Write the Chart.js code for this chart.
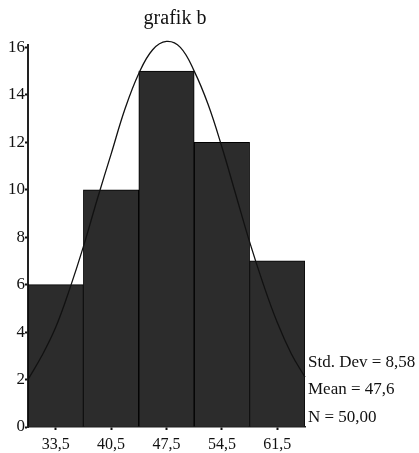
<!DOCTYPE html>
<html>
<head>
<meta charset="utf-8">
<script src="https://cdn.jsdelivr.net/npm/chart.js@4/dist/chart.umd.min.js"></script>
<style>
  html, body { margin: 0; padding: 0; background: #fff; }
  #wrap { width: 419px; height: 453px; position: relative; }
</style>
</head>
<body>
<div id="wrap"><canvas id="c" width="419" height="453"></canvas></div>
<script>
const chartTitle = 'grafik b';
const binCenters = [33.5, 40.5, 47.5, 54.5, 61.5];
const binLabels = ['33,5', '40,5', '47,5', '54,5', '61,5'];
const frequencies = [6, 10, 15, 12, 7];
const curveX = [30, 31.75, 33.5, 35.25, 37, 38.75, 40.5, 42.25, 44, 45.75, 47.5, 49.25, 51, 52.75, 54.5, 56.25, 58, 59.75, 61.5, 63.25, 65];
const curveY = [2.0, 3.0, 4.2, 5.8, 7.6, 9.6, 11.5, 13.4, 14.9, 15.9, 16.25, 16.0, 15.0, 13.6, 11.8, 9.8, 7.8, 6.0, 4.4, 3.1, 2.1];
const yTicks = [0, 2, 4, 6, 8, 10, 12, 14, 16];
const statsLines = ['Std. Dev = 8,58', 'Mean = 47,6', 'N = 50,00'];

const serif = '"Liberation Serif", "DejaVu Serif", serif';

const overlay = {
  id: 'overlay',
  afterDraw(chart) {
    const ctx = chart.ctx;
    ctx.save();
    ctx.fillStyle = '#111';
    ctx.textAlign = 'center';
    ctx.textBaseline = 'alphabetic';
    ctx.font = '20px ' + serif;
    ctx.fillText(chartTitle, 175, 24);
    ctx.textAlign = 'left';
    ctx.font = '17px ' + serif;
    const x0 = chart.chartArea.right + 3;
    const baseY = [367, 394, 422];
    statsLines.forEach((s, i) => ctx.fillText(s, x0, baseY[i]));
    ctx.restore();
  }
};

new Chart(document.getElementById('c'), {
  type: 'bar',
  data: {
    datasets: [
      {
        type: 'line',
        data: curveX.map((x, i) => ({ x: x, y: curveY[i] })),
        borderColor: '#111',
        borderWidth: 1.3,
        pointRadius: 0,
        tension: 0.4,
        fill: false,
        clip: false,
        order: 0
      },
      {
        type: 'bar',
        data: binCenters.map((x, i) => ({ x: x, y: frequencies[i] })),
        backgroundColor: '#2c2c2c',
        borderColor: '#000',
        borderWidth: 1,
        barPercentage: 1,
        categoryPercentage: 1,
        order: 1
      }
    ]
  },
  options: {
    responsive: false,
    animation: false,
    events: [],
    layout: { padding: { top: 45, right: 114, left: 0, bottom: 0 } },
    plugins: { legend: { display: false }, title: { display: false }, tooltip: { enabled: false } },
    scales: {
      x: {
        type: 'linear',
        min: 30,
        max: 65,
        offset: false,
        afterBuildTicks(scale) { scale.ticks = binCenters.map(v => ({ value: v })); },
        afterFit(scale) { scale.height = 26; },
        ticks: {
          autoSkip: false,
          maxRotation: 0,
          padding: 5,
          color: '#111',
          font: { family: serif, size: 16 },
          callback(value) { const i = binCenters.indexOf(value); return i >= 0 ? binLabels[i] : ''; }
        },
        grid: { display: true, drawOnChartArea: false, offset: false, tickLength: 3, color: '#111', tickWidth: 2 },
        border: { display: true, color: '#222', width: 1.5 }
      },
      y: {
        type: 'linear',
        min: 0,
        max: 16.1,
        afterBuildTicks(scale) { scale.ticks = yTicks.map(v => ({ value: v })); },
        afterFit(scale) { scale.width = 28; },
        ticks: {
          padding: 0,
          color: '#111',
          font: { family: serif, size: 17 },
          callback(value) { return String(value); }
        },
        grid: { display: true, drawOnChartArea: false, tickLength: 3, color: '#111', tickWidth: 2 },
        border: { display: true, color: '#222', width: 2 }
      }
    }
  },
  plugins: [overlay]
});
</script>
</body>
</html>
